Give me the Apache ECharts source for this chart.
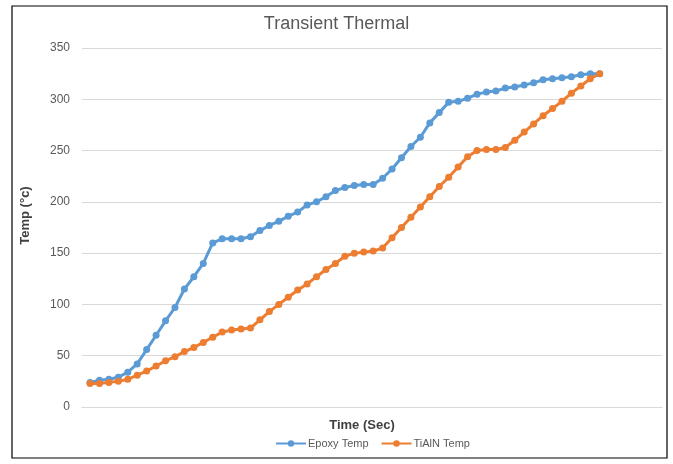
<!DOCTYPE html>
<html>
<head>
<meta charset="utf-8">
<script src="https://cdn.jsdelivr.net/npm/echarts@6/dist/echarts.min.js"></script>
<style>
html,body{margin:0;padding:0;background:#fff;}
#c{width:673px;height:464px;}
</style>
</head>
<body>
<div id="c"></div>
<script>
var yTicks = [0, 50, 100, 150, 200, 250, 300, 350];
var epoxyTemp = [24, 26, 27, 29, 34, 42, 56, 70, 84, 97, 115, 127, 140, 160, 164, 164, 164, 166, 172, 177, 181, 186, 190, 197, 200, 205, 211, 214, 216, 217, 217, 223, 232, 243, 254, 263, 277, 287, 297, 298, 301, 305, 307, 308, 311, 312, 314, 316, 319, 320, 321, 322, 324, 325, 325];
var tialnTemp = [23, 23, 24, 25, 27, 31, 35, 40, 45, 49, 54, 58, 63, 68, 73, 75, 76, 77, 85, 93, 100, 107, 114, 120, 127, 134, 140, 147, 150, 151, 152, 155, 165, 175, 185, 195, 205, 215, 224, 234, 244, 250, 251, 251, 253, 260, 268, 276, 284, 291, 298, 306, 313, 320, 325];

function toPairs(arr){ return arr.map(function(v,i){ return [i, v]; }); }

var chart = echarts.init(document.getElementById('c'));
chart.setOption({
  animation: false,
  backgroundColor: '#fff',
  title: {
    text: 'Transient Thermal',
    left: 'center',
    top: 10,
    textStyle: {fontFamily: 'Liberation Sans', fontSize: 18, fontWeight: 'normal', color: '#595959'}
  },
  graphic: [{
    type: 'rect', silent: true,
    shape: {x: 12, y: 6, width: 655, height: 452},
    style: {fill: 'none', stroke: '#000', lineWidth: 1.2}
  }],
  legend: {
    bottom: 10,
    left: 270,
    itemWidth: 30,
    itemHeight: 8,
    itemGap: 12,
    textStyle: {fontFamily: 'Liberation Sans', fontSize: 11, color: '#595959', padding: [0, 0, 0, -3]},
    data: ['Epoxy Temp', 'TiAlN Temp']
  },
  grid: {left: 82, right: 11, top: 48, bottom: 57},
  xAxis: {
    type: 'value',
    min: -0.85,
    max: 60.6,
    name: 'Time (Sec)',
    nameLocation: 'middle',
    nameGap: 12,
    nameTextStyle: {fontFamily: 'Liberation Sans', fontSize: 13, fontWeight: 'bold', color: '#404040', padding: [0, 20, 0, 0]},
    axisLine: {show: true, lineStyle: {color: '#d9d9d9', width: 1}},
    axisTick: {show: false},
    axisLabel: {show: false},
    splitLine: {show: false}
  },
  yAxis: {
    type: 'value',
    min: yTicks[0],
    max: yTicks[yTicks.length - 1],
    interval: 50,
    name: 'Temp (°c)',
    nameLocation: 'middle',
    nameRotate: 90,
    nameGap: 50,
    nameTextStyle: {fontFamily: 'Liberation Sans', fontSize: 13, fontWeight: 'bold', color: '#404040', padding: [0, 0, 0, 24]},
    axisLine: {show: false},
    axisTick: {show: false},
    axisLabel: {margin: 12, fontFamily: 'Liberation Sans', fontSize: 12, color: '#595959'},
    splitLine: {lineStyle: {color: '#d9d9d9', width: 1}}
  },
  series: [
    {
      name: 'Epoxy Temp', type: 'line',
      data: toPairs(epoxyTemp),
      symbol: 'circle', symbolSize: 7,
      lineStyle: {color: '#5B9BD5', width: 3},
      itemStyle: {color: '#5B9BD5'}
    },
    {
      name: 'TiAlN Temp', type: 'line',
      data: toPairs(tialnTemp),
      symbol: 'circle', symbolSize: 7,
      lineStyle: {color: '#ED7D31', width: 3},
      itemStyle: {color: '#ED7D31'}
    }
  ]
});
</script>
</body>
</html>
